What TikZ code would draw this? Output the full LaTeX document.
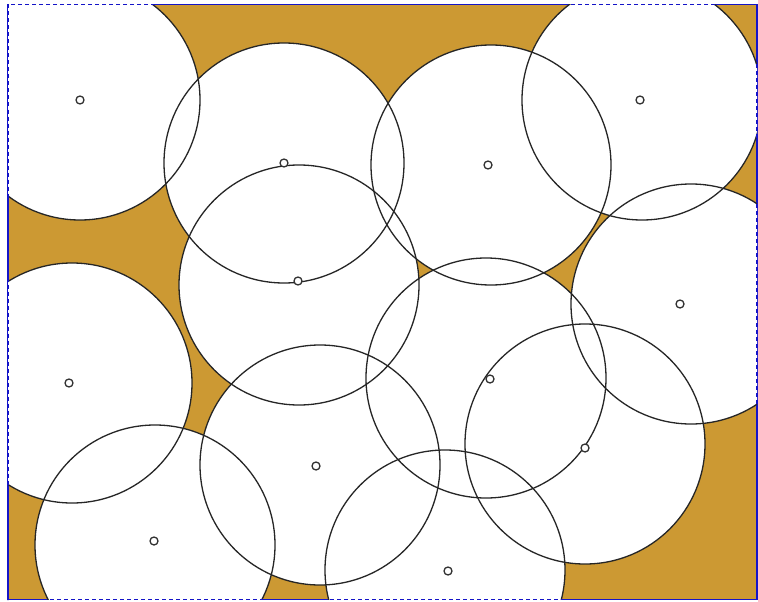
\documentclass[tikz,border=0pt]{standalone}
\definecolor{field}{RGB}{204,153,51}
\definecolor{edgeblue}{RGB}{20,20,200}
\tikzset{
  disk/.style={fill=white},
  ring/.style={draw=black!85, line width=1.3pt},
  sensor/.style={circle, draw=black!80, fill=white, line width=1.3pt, inner sep=0pt, minimum size=8pt},
}
\begin{document}
\begin{tikzpicture}[x=1pt,y=-1pt]
\useasboundingbox (0,0) rectangle (758,602);
\coordinate (tl) at (8,4.5);
\coordinate (br) at (757,599.5);
\fill[field] (tl) rectangle (br);
\draw[edgeblue, line width=1.3pt] (tl) rectangle (br);
\def\circlist{80/100, 284/163, 491/165, 642/100, 299/285, 691/304, 72/383, 486/378, 585/444, 320/465, 155/545, 445/570}
\begin{scope}
\clip (tl) rectangle (br);
\foreach \x/\y in \circlist { \fill[disk] (\x,\y) circle (120); }
\foreach \x/\y in \circlist { \draw[ring] (\x,\y) circle (120); }
\end{scope}
\draw[edgeblue, line width=1.3pt, dash pattern=on 4pt off 3pt] (tl) rectangle (br);
\foreach \x/\y [count=\i] in {80/100, 284/163, 488/165, 640/100, 298/281, 680/304, 69/383, 490/379, 585/448, 316/466, 154/541, 448/571} {
  \node[sensor] (s\i) at (\x,\y) {};
}
\end{tikzpicture}
\end{document}
